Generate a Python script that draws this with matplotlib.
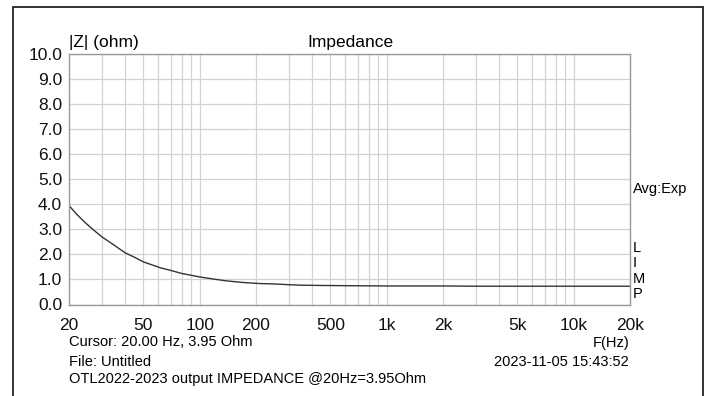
import matplotlib
matplotlib.use("Agg")
import matplotlib.pyplot as plt
from matplotlib.patches import Rectangle
from matplotlib.ticker import FixedLocator, NullFormatter

# impedance curve
freq = [20, 22, 24.4, 27, 30, 35, 40, 45, 50, 62, 70, 80, 100, 120, 140, 170,
        205, 250, 300, 350, 450, 635, 1000, 1430, 2000, 3000, 5000, 7000,
        10000, 14000, 20000]
z = [3.95, 3.60, 3.27, 2.98, 2.70, 2.36, 2.06, 1.88, 1.70, 1.46, 1.36, 1.24,
     1.10, 1.01, 0.94, 0.88, 0.84, 0.82, 0.79, 0.77, 0.76, 0.75, 0.74, 0.74,
     0.74, 0.73, 0.73, 0.73, 0.73, 0.73, 0.73]

xticks = [20, 50, 100, 200, 500, 1000, 2000, 5000, 10000, 20000]
xlabels = ["20", "50", "100", "200", "500", "1k", "2k", "5k", "10k", "20k"]
yticks = [0, 1, 2, 3, 4, 5, 6, 7, 8, 9, 10]
gridf = [20, 30, 40, 50, 60, 70, 80, 90, 100, 200, 300, 400, 500, 600, 700,
         800, 900, 1000, 2000, 3000, 4000, 5000, 6000, 7000, 8000, 9000,
         10000, 20000]
side = ["L", "I", "M", "P"]

plt.rcParams['font.family'] = ['Liberation Sans', 'DejaVu Sans']
W, H = 710, 396
fig = plt.figure(figsize=(W / 100, H / 100), dpi=100)

def fx(px):
    return px / W

def fy(py):
    return 1 - py / H

fig.patches.append(Rectangle((fx(13), fy(420)), fx(703) - fx(13), fy(7) - fy(420),
                             transform=fig.transFigure, fill=False,
                             edgecolor="#222222", linewidth=1.3))

ax = fig.add_axes([fx(69), fy(304.5), fx(630) - fx(69), fy(54) - fy(304.5)])
ax.set_xscale("log")
ax.set_xlim(20, 20000)
ax.set_ylim(0, 10)

for f in gridf:
    ax.axvline(f, color="#d2d2d2", linewidth=0.9, zorder=0)
for v in yticks:
    ax.axhline(v, color="#d2d2d2", linewidth=0.9, zorder=0)

ax.plot(freq, z, color="#333333", linewidth=1.0)

ax.xaxis.set_major_locator(FixedLocator(xticks))
ax.xaxis.set_minor_locator(FixedLocator([]))
ax.xaxis.set_minor_formatter(NullFormatter())
ax.set_xticks(xticks)
ax.set_xticklabels(xlabels)
ax.set_yticks(yticks)
ax.set_yticklabels(["%.1f" % v for v in yticks])
ax.tick_params(length=0, labelsize=12.5, colors="#111111")
ax.tick_params(axis="x", pad=10)
ax.tick_params(axis="y", pad=5)
for s in ax.spines.values():
    s.set_color("#999999")
    s.set_linewidth(1.0)

fs = 10.5
big = 12.5
fig.text(fx(69), fy(42), "|Z| (ohm)", fontsize=big, va="center", ha="left")
fig.text(fx(350), fy(42), "Impedance", fontsize=big, va="center", ha="center")
fig.text(fx(633), fy(189), "Avg:Exp", fontsize=fs, va="center", ha="left")
for letter, py in zip(side, [248, 263, 279, 294]):
    fig.text(fx(633), fy(py), letter, fontsize=fs, va="center", ha="left")
fig.text(fx(69), fy(342), "Cursor: 20.00 Hz, 3.95 Ohm", fontsize=fs, va="center")
fig.text(fx(69), fy(362.5), "File: Untitled", fontsize=fs, va="center")
fig.text(fx(69), fy(379.5), "OTL2022-2023 output IMPEDANCE @20Hz=3.95Ohm",
         fontsize=fs, va="center")
fig.text(fx(629), fy(343), "F(Hz)", fontsize=fs, va="center", ha="right")
fig.text(fx(629), fy(362.5), "2023-11-05 15:43:52", fontsize=fs, va="center", ha="right")

fig.savefig("out.png", dpi=100)
